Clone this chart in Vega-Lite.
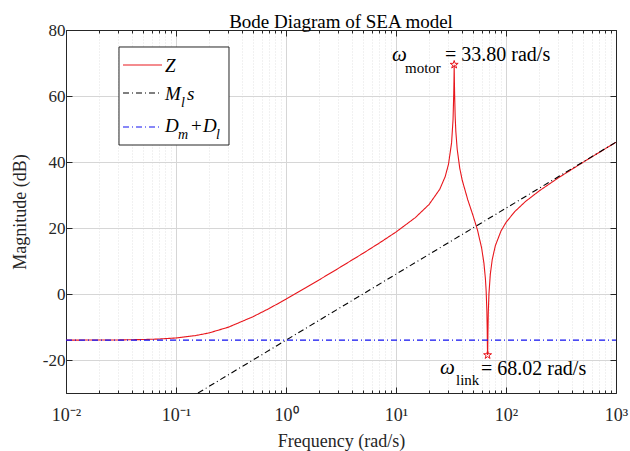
{
  "$schema": "https://vega.github.io/schema/vega-lite/v6.json",
  "width": 550,
  "height": 363,
  "autosize": {"type": "none"},
  "padding": {"left": 66, "top": 30, "right": 14, "bottom": 58},
  "background": "white",
  "config": {"view": {"stroke": "#262626", "strokeWidth": 1}, "font": "Liberation Serif"},
  "title": {"text": "Bode Diagram of SEA model", "font": "Liberation Serif", "fontSize": 19, "fontWeight": "normal", "color": "black", "offset": -11, "anchor": "middle"},
  "datasets": {
    "curves": [
      {"freq": 0.01, "mag": -13.97, "series": "Z"},
      {"freq": 0.02, "mag": -13.95, "series": "Z"},
      {"freq": 0.03, "mag": -13.92, "series": "Z"},
      {"freq": 0.05, "mag": -13.80, "series": "Z"},
      {"freq": 0.07, "mag": -13.64, "series": "Z"},
      {"freq": 0.1, "mag": -13.32, "series": "Z"},
      {"freq": 0.15, "mag": -12.61, "series": "Z"},
      {"freq": 0.2, "mag": -11.79, "series": "Z"},
      {"freq": 0.3, "mag": -10.04, "series": "Z"},
      {"freq": 0.5, "mag": -6.90, "series": "Z"},
      {"freq": 0.7, "mag": -4.42, "series": "Z"},
      {"freq": 1, "mag": -1.57, "series": "Z"},
      {"freq": 1.5, "mag": 1.82, "series": "Z"},
      {"freq": 2, "mag": 4.28, "series": "Z"},
      {"freq": 3, "mag": 7.79, "series": "Z"},
      {"freq": 5, "mag": 12.30, "series": "Z"},
      {"freq": 7, "mag": 15.37, "series": "Z"},
      {"freq": 10, "mag": 18.78, "series": "Z"},
      {"freq": 15, "mag": 23.16, "series": "Z"},
      {"freq": 20, "mag": 27.15, "series": "Z"},
      {"freq": 25, "mag": 31.75, "series": "Z"},
      {"freq": 28, "mag": 35.57, "series": "Z"},
      {"freq": 30, "mag": 39.30, "series": "Z"},
      {"freq": 32, "mag": 45.79, "series": "Z"},
      {"freq": 33, "mag": 52.81, "series": "Z"},
      {"freq": 33.5, "mag": 60.8, "series": "Z"},
      {"freq": 33.65, "mag": 64.5, "series": "Z"},
      {"freq": 33.8, "mag": 69.5, "series": "Z"},
      {"freq": 33.95, "mag": 64.5, "series": "Z"},
      {"freq": 34.1, "mag": 60.8, "series": "Z"},
      {"freq": 34.5, "mag": 53.9, "series": "Z"},
      {"freq": 35, "mag": 49.2, "series": "Z"},
      {"freq": 36, "mag": 43.87, "series": "Z"},
      {"freq": 38, "mag": 38.09, "series": "Z"},
      {"freq": 40, "mag": 34.47, "series": "Z"},
      {"freq": 45, "mag": 28.48, "series": "Z"},
      {"freq": 50, "mag": 23.90, "series": "Z"},
      {"freq": 55, "mag": 19.43, "series": "Z"},
      {"freq": 60, "mag": 14.00, "series": "Z"},
      {"freq": 63, "mag": 9.34, "series": "Z"},
      {"freq": 65, "mag": 4.58, "series": "Z"},
      {"freq": 66, "mag": 0.93, "series": "Z"},
      {"freq": 67, "mag": -5.15, "series": "Z"},
      {"freq": 67.5, "mag": -11.03, "series": "Z"},
      {"freq": 67.8, "mag": -16.5, "series": "Z"},
      {"freq": 68.02, "mag": -18.5, "series": "Z"},
      {"freq": 68.25, "mag": -16.5, "series": "Z"},
      {"freq": 68.5, "mag": -11.92, "series": "Z"},
      {"freq": 69, "mag": -5.83, "series": "Z"},
      {"freq": 70, "mag": 0.15, "series": "Z"},
      {"freq": 72, "mag": 5.96, "series": "Z"},
      {"freq": 75, "mag": 10.47, "series": "Z"},
      {"freq": 80, "mag": 14.64, "series": "Z"},
      {"freq": 90, "mag": 19.07, "series": "Z"},
      {"freq": 100, "mag": 21.68, "series": "Z"},
      {"freq": 120, "mag": 24.96, "series": "Z"},
      {"freq": 150, "mag": 28.00, "series": "Z"},
      {"freq": 200, "mag": 31.22, "series": "Z"},
      {"freq": 300, "mag": 35.22, "series": "Z"},
      {"freq": 500, "mag": 39.88, "series": "Z"},
      {"freq": 700, "mag": 42.86, "series": "Z"},
      {"freq": 1000, "mag": 45.99, "series": "Z"},
      {"freq": 0.15849, "mag": -30, "series": "Mₗs"},
      {"freq": 1000, "mag": 46.02, "series": "Mₗs"},
      {"freq": 0.01, "mag": -13.98, "series": "Dₘ+Dₗ"},
      {"freq": 1000, "mag": -13.98, "series": "Dₘ+Dₗ"}
    ],
    "stars": [
      {"freq": 33.8, "mag": 69.5},
      {"freq": 68.02, "mag": -18.5}
    ],
    "notes": [
      {"freq": 9.196, "mag": 70.61, "part": "w", "text": "ω"},
      {"freq": 12.07, "mag": 66.97, "part": "sub", "text": "motor"},
      {"freq": 27.90, "mag": 70.61, "part": "eq", "text": "= 33.80 rad/s"},
      {"freq": 25.12, "mag": -24.24, "part": "w", "text": "ω"},
      {"freq": 35.12, "mag": -27.58, "part": "sub", "text": "link"},
      {"freq": 59.26, "mag": -24.55, "part": "eq", "text": "= 68.02 rad/s"}
    ],
    "legendBox": [
      {"f1": 0.03032, "f2": 0.3032, "m1": 74.85, "m2": 45.15}
    ],
    "legendLines": [
      {"series": "Z", "f1": 0.03298, "f2": 0.07464, "mag": 69.39},
      {"series": "Mₗs", "f1": 0.03298, "f2": 0.07464, "mag": 60.91},
      {"series": "Dₘ+Dₗ", "f1": 0.03298, "f2": 0.07464, "mag": 50.61}
    ],
    "legendText": [
      {"freq": 0.07943, "mag": 67.27, "part": "big", "text": "Z"},
      {"freq": 0.07943, "mag": 58.79, "part": "big", "text": "M"},
      {"freq": 0.1110, "mag": 56.67, "part": "small", "text": "l"},
      {"freq": 0.1259, "mag": 58.79, "part": "big", "text": "s"},
      {"freq": 0.07943, "mag": 49.09, "part": "big", "text": "D"},
      {"freq": 0.1043, "mag": 46.97, "part": "small", "text": "m"},
      {"freq": 0.1369, "mag": 49.09, "part": "plus", "text": "+"},
      {"freq": 0.1760, "mag": 49.09, "part": "big", "text": "D"},
      {"freq": 0.2311, "mag": 46.97, "part": "small", "text": "l"}
    ]
  },
  "resolve": {"axis": {"x": "independent", "y": "independent"}},
  "layer": [
    {
      "data": {"name": "curves"},
      "mark": {"type": "line", "strokeWidth": 1.1},
      "encoding": {
        "x": {
          "field": "freq", "type": "quantitative",
          "scale": {"type": "log", "domain": [0.01, 1000], "nice": false},
          "axis": {
            "orient": "bottom",
            "values": [0.01,0.02,0.03,0.04,0.05,0.06,0.07,0.08,0.09,0.1,0.2,0.3,0.4,0.5,0.6,0.7,0.8,0.9,1,2,3,4,5,6,7,8,9,10,20,30,40,50,60,70,80,90,100,200,300,400,500,600,700,800,900,1000],
            "labelExpr": "datum.value==0.01?'10⁻²':datum.value==0.1?'10⁻¹':datum.value==1?'10⁰':datum.value==10?'10¹':datum.value==100?'10²':datum.value==1000?'10³':''",
            "labelFont": "Liberation Serif", "labelFontSize": 18, "labelColor": "#262626",
            "labelOverlap": false, "labelFlush": false, "labelBound": false, "labelPadding": 19,
            "title": "Frequency (rad/s)", "titleFont": "Liberation Serif", "titleFontSize": 18, "titleFontWeight": "normal", "titleColor": "#262626", "titlePadding": 5,
            "grid": true,
            "gridColor": {"condition": {"test": "indexof([0.01,0.1,1,10,100,1000], datum.value) >= 0", "value": "#d6d6d6"}, "value": "#e2e2e2"},
            "gridDash": {"condition": {"test": "indexof([0.01,0.1,1,10,100,1000], datum.value) >= 0", "value": []}, "value": [1, 2]},
            "tickSize": {"condition": {"test": "indexof([0.01,0.1,1,10,100,1000], datum.value) >= 0", "value": -6}, "value": -3},
            "tickColor": "#262626", "domainColor": "#262626"
          }
        },
        "y": {
          "field": "mag", "type": "quantitative",
          "scale": {"domain": [-30, 80], "nice": false, "zero": false},
          "axis": {
            "orient": "left",
            "values": [-20, 0, 20, 40, 60, 80],
            "labelExpr": "datum.value + ''",
            "labelFont": "Liberation Serif", "labelFontSize": 17, "labelColor": "#262626", "labelPadding": 7,
            "title": "Magnitude (dB)", "titleFont": "Liberation Serif", "titleFontSize": 18, "titleFontWeight": "normal", "titleColor": "#262626", "titlePadding": 13,
            "grid": true, "gridColor": "#d6d6d6",
            "tickSize": -6, "tickColor": "#262626", "domainColor": "#262626"
          }
        },
        "color": {
          "field": "series", "type": "nominal",
          "scale": {"domain": ["Z", "Mₗs", "Dₘ+Dₗ"], "range": ["#e8161c", "#000000", "#1010f0"]},
          "legend": null
        },
        "strokeDash": {
          "field": "series", "type": "nominal",
          "scale": {"domain": ["Z", "Mₗs", "Dₘ+Dₗ"], "range": [[1, 0], [6, 3, 1, 3], [6, 3, 1, 3]]},
          "legend": null
        }
      }
    },
    {
      "data": {"name": "stars"},
      "mark": {"type": "point", "opacity": 0},
      "encoding": {
        "x": {
          "field": "freq", "type": "quantitative",
          "scale": {"type": "log", "domain": [0.01, 1000], "nice": false},
          "axis": {
            "orient": "top",
            "values": [0.01,0.02,0.03,0.04,0.05,0.06,0.07,0.08,0.09,0.1,0.2,0.3,0.4,0.5,0.6,0.7,0.8,0.9,1,2,3,4,5,6,7,8,9,10,20,30,40,50,60,70,80,90,100,200,300,400,500,600,700,800,900,1000],
            "labels": false, "grid": false, "title": null,
            "tickSize": {"condition": {"test": "indexof([0.01,0.1,1,10,100,1000], datum.value) >= 0", "value": -6}, "value": -3},
            "tickColor": "#262626", "domainColor": "#262626"
          }
        },
        "y": {
          "field": "mag", "type": "quantitative",
          "scale": {"domain": [-30, 80], "nice": false, "zero": false},
          "axis": {
            "orient": "right", "values": [-20, 0, 20, 40, 60, 80],
            "labels": false, "grid": false, "title": null,
            "tickSize": -6, "tickColor": "#262626", "domainColor": "#262626"
          }
        }
      }
    },
    {
      "data": {"name": "legendBox"},
      "mark": {"type": "rect", "fill": "white", "stroke": "#262626", "strokeWidth": 1},
      "encoding": {
        "x": {"field": "f1", "type": "quantitative", "scale": {"type": "log", "domain": [0.01, 1000], "nice": false}, "axis": null},
        "x2": {"field": "f2"},
        "y": {"field": "m1", "type": "quantitative", "scale": {"domain": [-30, 80], "nice": false, "zero": false}, "axis": null},
        "y2": {"field": "m2"}
      }
    },
    {
      "data": {"name": "legendLines"},
      "mark": {"type": "rule", "strokeWidth": 1.1},
      "encoding": {
        "x": {"field": "f1", "type": "quantitative", "scale": {"type": "log", "domain": [0.01, 1000], "nice": false}, "axis": null},
        "x2": {"field": "f2"},
        "y": {"field": "mag", "type": "quantitative", "scale": {"domain": [-30, 80], "nice": false, "zero": false}, "axis": null},
        "color": {"field": "series", "type": "nominal", "scale": {"domain": ["Z", "Mₗs", "Dₘ+Dₗ"], "range": ["#e8161c", "#000000", "#1010f0"]}, "legend": null},
        "strokeDash": {"field": "series", "type": "nominal", "scale": {"domain": ["Z", "Mₗs", "Dₘ+Dₗ"], "range": [[1, 0], [6, 3, 1, 3], [6, 3, 1, 3]]}, "legend": null}
      }
    },
    {
      "data": {"name": "legendText"},
      "transform": [{"filter": "datum.part == 'big'"}],
      "mark": {"type": "text", "align": "left", "baseline": "alphabetic", "font": "Liberation Serif", "fontSize": 19, "fontStyle": "italic", "color": "black"},
      "encoding": {
        "x": {"field": "freq", "type": "quantitative", "scale": {"type": "log", "domain": [0.01, 1000], "nice": false}, "axis": null},
        "y": {"field": "mag", "type": "quantitative", "scale": {"domain": [-30, 80], "nice": false, "zero": false}, "axis": null},
        "text": {"field": "text"}
      }
    },
    {
      "data": {"name": "legendText"},
      "transform": [{"filter": "datum.part == 'small'"}],
      "mark": {"type": "text", "align": "left", "baseline": "alphabetic", "font": "Liberation Serif", "fontSize": 14, "fontStyle": "italic", "color": "black"},
      "encoding": {
        "x": {"field": "freq", "type": "quantitative", "scale": {"type": "log", "domain": [0.01, 1000], "nice": false}, "axis": null},
        "y": {"field": "mag", "type": "quantitative", "scale": {"domain": [-30, 80], "nice": false, "zero": false}, "axis": null},
        "text": {"field": "text"}
      }
    },
    {
      "data": {"name": "legendText"},
      "transform": [{"filter": "datum.part == 'plus'"}],
      "mark": {"type": "text", "align": "left", "baseline": "alphabetic", "font": "Liberation Serif", "fontSize": 19, "color": "black"},
      "encoding": {
        "x": {"field": "freq", "type": "quantitative", "scale": {"type": "log", "domain": [0.01, 1000], "nice": false}, "axis": null},
        "y": {"field": "mag", "type": "quantitative", "scale": {"domain": [-30, 80], "nice": false, "zero": false}, "axis": null},
        "text": {"field": "text"}
      }
    },
    {
      "data": {"name": "stars"},
      "mark": {"type": "point", "shape": "M0,-1L0.2245,-0.309L0.951,-0.309L0.363,0.118L0.588,0.809L0,0.382L-0.588,0.809L-0.363,0.118L-0.951,-0.309L-0.2245,-0.309Z", "size": 70, "filled": false, "stroke": "#e8161c", "strokeWidth": 1, "opacity": 1},
      "encoding": {
        "x": {"field": "freq", "type": "quantitative", "scale": {"type": "log", "domain": [0.01, 1000], "nice": false}, "axis": null},
        "y": {"field": "mag", "type": "quantitative", "scale": {"domain": [-30, 80], "nice": false, "zero": false}, "axis": null}
      }
    },
    {
      "data": {"name": "notes"},
      "transform": [{"filter": "datum.part == 'w'"}],
      "mark": {"type": "text", "align": "left", "baseline": "alphabetic", "font": "Liberation Serif", "fontSize": 21, "fontStyle": "italic", "color": "black"},
      "encoding": {
        "x": {"field": "freq", "type": "quantitative", "scale": {"type": "log", "domain": [0.01, 1000], "nice": false}, "axis": null},
        "y": {"field": "mag", "type": "quantitative", "scale": {"domain": [-30, 80], "nice": false, "zero": false}, "axis": null},
        "text": {"field": "text"}
      }
    },
    {
      "data": {"name": "notes"},
      "transform": [{"filter": "datum.part == 'sub'"}],
      "mark": {"type": "text", "align": "left", "baseline": "alphabetic", "font": "Liberation Serif", "fontSize": 15, "color": "black"},
      "encoding": {
        "x": {"field": "freq", "type": "quantitative", "scale": {"type": "log", "domain": [0.01, 1000], "nice": false}, "axis": null},
        "y": {"field": "mag", "type": "quantitative", "scale": {"domain": [-30, 80], "nice": false, "zero": false}, "axis": null},
        "text": {"field": "text"}
      }
    },
    {
      "data": {"name": "notes"},
      "transform": [{"filter": "datum.part == 'eq'"}],
      "mark": {"type": "text", "align": "left", "baseline": "alphabetic", "font": "Liberation Serif", "fontSize": 20, "color": "black"},
      "encoding": {
        "x": {"field": "freq", "type": "quantitative", "scale": {"type": "log", "domain": [0.01, 1000], "nice": false}, "axis": null},
        "y": {"field": "mag", "type": "quantitative", "scale": {"domain": [-30, 80], "nice": false, "zero": false}, "axis": null},
        "text": {"field": "text"}
      }
    }
  ]
}
